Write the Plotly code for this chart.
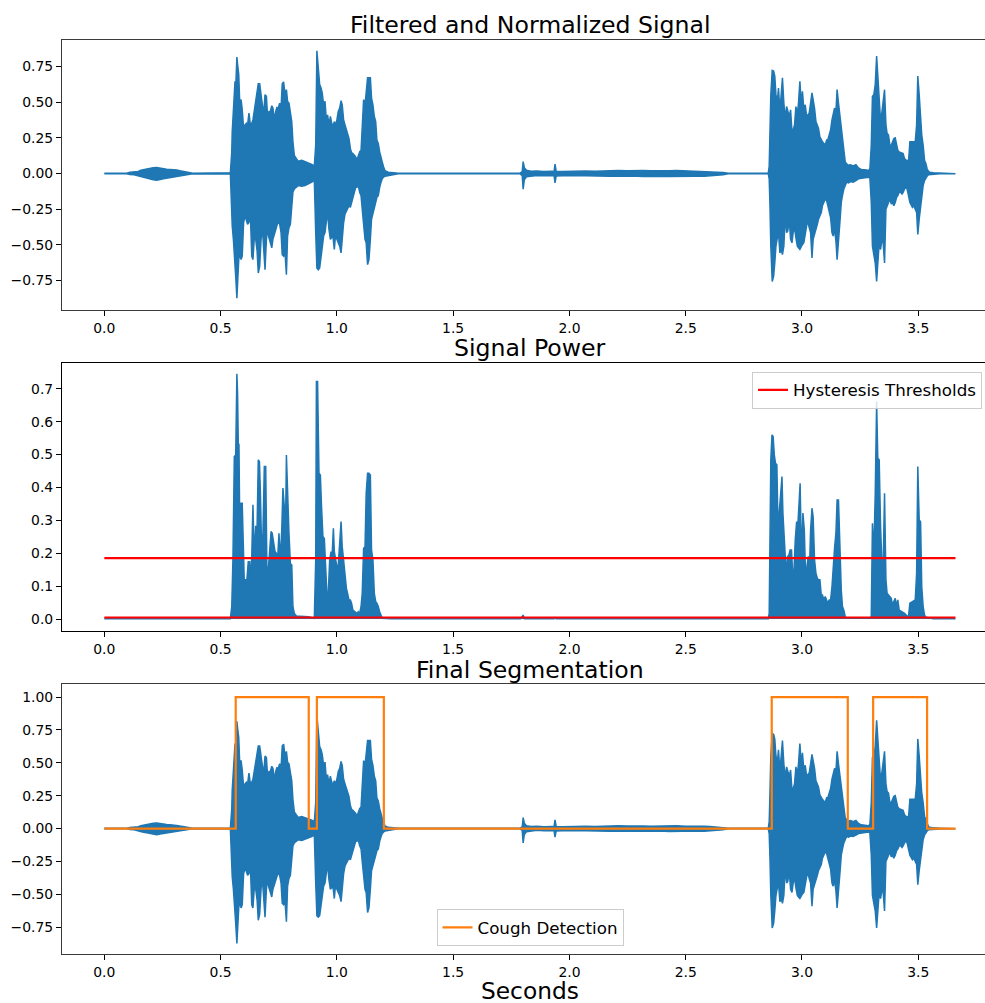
import plotly.graph_objects as go

# ---------------- data ----------------
# Signal amplitude envelope: time (s), upper peak, lower peak
quiet1_t  = [0.000, 0.096, 0.110, 0.128, 0.146, 0.157, 0.168, 0.182, 0.196, 0.210, 0.225, 0.240,
             0.254, 0.268, 0.282, 0.296, 0.311, 0.325, 0.339, 0.354, 0.368, 0.380, 0.542]
quiet1_hi = [0.002, 0.002, 0.008, 0.010, 0.014, 0.022, 0.026, 0.034, 0.038, 0.040, 0.042, 0.036,
             0.035, 0.030, 0.028, 0.027, 0.024, 0.019, 0.014, 0.010, 0.005, 0.002, 0.004]
quiet1_lo = [-0.002, -0.002, -0.008, -0.010, -0.014, -0.022, -0.028, -0.033, -0.038, -0.044, -0.047, -0.042,
             -0.038, -0.031, -0.028, -0.026, -0.024, -0.019, -0.014, -0.009, -0.005, -0.002, -0.004]

burstA_t = [0.545, 0.548, 0.550, 0.555, 0.559, 0.562, 0.565, 0.570, 0.573, 0.578,
            0.582, 0.588, 0.593, 0.599, 0.605, 0.611, 0.616, 0.622, 0.628, 0.634,
            0.639, 0.645, 0.651, 0.657, 0.662, 0.668, 0.674, 0.679, 0.685, 0.691,
            0.697, 0.702, 0.708, 0.714, 0.720, 0.725, 0.731, 0.737, 0.742, 0.748,
            0.754, 0.760, 0.765, 0.771, 0.777, 0.783, 0.788, 0.794, 0.800, 0.806,
            0.811, 0.817, 0.826, 0.834, 0.849, 0.863, 0.877, 0.892, 0.903, 0.909,
            0.914, 0.920, 0.926, 0.932, 0.937, 0.943, 0.949, 0.955, 0.960, 0.966,
            0.972, 0.977, 0.983, 0.989, 0.995, 1.000, 1.006, 1.012, 1.018, 1.023,
            1.029, 1.035, 1.041, 1.046, 1.052, 1.058, 1.063, 1.069, 1.075, 1.081,
            1.086, 1.092, 1.098, 1.104, 1.109, 1.115, 1.121, 1.126, 1.132, 1.138,
            1.144, 1.149, 1.155, 1.161, 1.167, 1.172, 1.178, 1.184, 1.190, 1.195,
            1.201, 1.207, 1.221, 1.235, 1.264]
burstA_hi = [0.080, 0.151, 0.293, 0.446, 0.528, 0.646, 0.599, 0.816, 0.764, 0.694,
             0.505, 0.517, 0.446, 0.316, 0.340, 0.352, 0.340, 0.422, 0.340, 0.352,
             0.375, 0.434, 0.493, 0.552, 0.628, 0.628, 0.552, 0.458, 0.410, 0.552,
             0.540, 0.399, 0.434, 0.434, 0.474, 0.458, 0.375, 0.434, 0.462, 0.458,
             0.493, 0.458, 0.628, 0.642, 0.552, 0.587, 0.505, 0.493, 0.410, 0.363,
             0.222, 0.127, 0.104, 0.085, 0.092, 0.080, 0.073, 0.064, 0.052, 0.198,
             0.859, 0.741, 0.623, 0.599, 0.564, 0.481, 0.505, 0.363, 0.410, 0.340,
             0.399, 0.359, 0.328, 0.363, 0.340, 0.375, 0.434, 0.458, 0.510, 0.481,
             0.375, 0.340, 0.304, 0.281, 0.245, 0.175, 0.146, 0.139, 0.127, 0.116,
             0.092, 0.127, 0.151, 0.163, 0.316, 0.517, 0.481, 0.599, 0.670, 0.670,
             0.670, 0.528, 0.481, 0.399, 0.363, 0.234, 0.210, 0.151, 0.104, 0.080,
             0.045, 0.019, 0.009, 0.005, 0.002]
burstA_lo = [-0.179, -0.274, -0.368, -0.462, -0.557, -0.628, -0.722, -0.875, -0.745, -0.604,
             -0.557, -0.604, -0.580, -0.344, -0.297, -0.333, -0.356, -0.344, -0.285, -0.580,
             -0.604, -0.451, -0.462, -0.545, -0.698, -0.651, -0.462, -0.368, -0.533, -0.675,
             -0.462, -0.392, -0.451, -0.486, -0.521, -0.462, -0.439, -0.392, -0.368, -0.333,
             -0.356, -0.415, -0.569, -0.580, -0.557, -0.710, -0.439, -0.380, -0.356, -0.250,
             -0.132, -0.109, -0.097, -0.085, -0.090, -0.085, -0.073, -0.061, -0.050, -0.415,
             -0.663, -0.675, -0.663, -0.580, -0.510, -0.439, -0.415, -0.333, -0.274, -0.392,
             -0.462, -0.451, -0.439, -0.533, -0.415, -0.462, -0.486, -0.510, -0.557, -0.486,
             -0.344, -0.285, -0.274, -0.250, -0.226, -0.238, -0.203, -0.167, -0.132, -0.097,
             -0.097, -0.085, -0.132, -0.156, -0.250, -0.321, -0.462, -0.486, -0.639, -0.604,
             -0.462, -0.321, -0.297, -0.250, -0.203, -0.167, -0.156, -0.097, -0.061, -0.038,
             -0.026, -0.019, -0.014, -0.009, -0.002]

quiet2_t = [1.787, 1.797, 1.801, 1.806, 1.815, 1.835, 1.860, 1.890, 1.925, 1.934,
            1.938, 1.943, 1.970, 2.000, 2.031, 2.070, 2.110, 2.140, 2.174, 2.210,
            2.250, 2.290, 2.317, 2.350, 2.390, 2.430, 2.461, 2.500, 2.540, 2.580,
            2.604, 2.640, 2.661, 2.683, 2.855]
quiet2_hi = [0.002, 0.012, 0.083, 0.040, 0.022, 0.015, 0.017, 0.013, 0.015, 0.014,
             0.066, 0.016, 0.014, 0.016, 0.015, 0.017, 0.016, 0.019, 0.018, 0.021,
             0.019, 0.022, 0.020, 0.018, 0.021, 0.019, 0.021, 0.018, 0.020, 0.017,
             0.015, 0.011, 0.007, 0.002, 0.002]
quiet2_lo = [-0.002, -0.015, -0.110, -0.045, -0.024, -0.017, -0.014, -0.016, -0.015, -0.016,
             -0.066, -0.018, -0.016, -0.015, -0.017, -0.016, -0.018, -0.017, -0.020, -0.019,
             -0.022, -0.020, -0.021, -0.022, -0.019, -0.022, -0.020, -0.021, -0.019, -0.020,
             -0.016, -0.012, -0.009, -0.002, -0.002]

burstB_t = [2.859, 2.862, 2.866, 2.872, 2.878, 2.883, 2.888, 2.894, 2.899, 2.905,
            2.911, 2.916, 2.922, 2.928, 2.934, 2.939, 2.945, 2.951, 2.957, 2.962,
            2.968, 2.974, 2.980, 2.985, 2.991, 2.997, 3.002, 3.008, 3.014, 3.020,
            3.025, 3.031, 3.037, 3.043, 3.048, 3.054, 3.060, 3.066, 3.071, 3.077,
            3.083, 3.088, 3.094, 3.100, 3.106, 3.111, 3.117, 3.123, 3.129, 3.134,
            3.140, 3.146, 3.151, 3.157, 3.163, 3.169, 3.174, 3.180, 3.186, 3.192,
            3.200, 3.209, 3.220, 3.232, 3.243, 3.255, 3.266, 3.278, 3.286, 3.292,
            3.298, 3.303, 3.309, 3.315, 3.321, 3.326, 3.332, 3.338, 3.344, 3.349,
            3.355, 3.361, 3.366, 3.372, 3.378, 3.384, 3.389, 3.395, 3.401, 3.407,
            3.412, 3.418, 3.424, 3.430, 3.435, 3.441, 3.447, 3.452, 3.458, 3.464,
            3.470, 3.475, 3.481, 3.487, 3.493, 3.498, 3.504, 3.510, 3.515, 3.521,
            3.527, 3.533, 3.538, 3.544, 3.550, 3.564, 3.593, 3.660]
burstB_hi = [0.050, 0.245, 0.552, 0.722, 0.717, 0.682, 0.552, 0.505, 0.599, 0.434,
             0.540, 0.670, 0.493, 0.387, 0.469, 0.434, 0.399, 0.446, 0.293, 0.304,
             0.340, 0.469, 0.410, 0.493, 0.646, 0.481, 0.576, 0.446, 0.481, 0.399,
             0.410, 0.422, 0.493, 0.564, 0.517, 0.458, 0.363, 0.328, 0.316, 0.257,
             0.234, 0.222, 0.210, 0.198, 0.234, 0.234, 0.269, 0.304, 0.375, 0.422,
             0.458, 0.434, 0.587, 0.493, 0.410, 0.316, 0.269, 0.175, 0.080, 0.068,
             0.057, 0.061, 0.052, 0.061, 0.038, 0.028, 0.028, 0.024, 0.019, 0.033,
             0.198, 0.540, 0.552, 0.623, 0.823, 0.694, 0.458, 0.363, 0.434, 0.493,
             0.587, 0.340, 0.281, 0.269, 0.198, 0.198, 0.222, 0.245, 0.250, 0.198,
             0.163, 0.151, 0.146, 0.146, 0.139, 0.104, 0.092, 0.092, 0.080, 0.222,
             0.222, 0.222, 0.217, 0.222, 0.340, 0.682, 0.552, 0.387, 0.269, 0.198,
             0.092, 0.068, 0.033, 0.014, 0.009, 0.005, 0.003, 0.002]
burstB_lo = [-0.038, -0.203, -0.510, -0.757, -0.722, -0.628, -0.510, -0.451, -0.415, -0.557,
             -0.533, -0.569, -0.510, -0.297, -0.415, -0.403, -0.321, -0.462, -0.486, -0.415,
             -0.380, -0.451, -0.510, -0.521, -0.533, -0.510, -0.498, -0.486, -0.415, -0.368,
             -0.333, -0.380, -0.415, -0.592, -0.462, -0.415, -0.392, -0.356, -0.321, -0.297,
             -0.274, -0.226, -0.203, -0.179, -0.191, -0.226, -0.274, -0.309, -0.415, -0.439,
             -0.392, -0.474, -0.604, -0.486, -0.344, -0.203, -0.156, -0.109, -0.085, -0.061,
             -0.066, -0.057, -0.061, -0.050, -0.038, -0.038, -0.033, -0.028, -0.026, -0.033,
             -0.203, -0.510, -0.557, -0.628, -0.757, -0.628, -0.486, -0.533, -0.462, -0.486,
             -0.628, -0.250, -0.226, -0.203, -0.179, -0.215, -0.203, -0.226, -0.203, -0.167,
             -0.156, -0.132, -0.132, -0.144, -0.132, -0.109, -0.097, -0.109, -0.156, -0.203,
             -0.226, -0.238, -0.226, -0.250, -0.274, -0.427, -0.321, -0.226, -0.156, -0.085,
             -0.050, -0.033, -0.019, -0.009, -0.005, -0.005, -0.003, -0.002]

# Signal power envelope: time (s), power
powA_t = [0.000, 0.100, 0.225, 0.370, 0.542, 0.548, 0.553, 0.559, 0.565, 0.570,
          0.573, 0.576, 0.579, 0.582, 0.588, 0.593, 0.598, 0.602, 0.608, 0.613,
          0.619, 0.625, 0.629, 0.634, 0.639, 0.645, 0.651, 0.657, 0.662, 0.667,
          0.671, 0.677, 0.682, 0.688, 0.694, 0.699, 0.705, 0.711, 0.717, 0.722,
          0.728, 0.734, 0.740, 0.745, 0.751, 0.757, 0.763, 0.768, 0.774, 0.780,
          0.783, 0.788, 0.794, 0.800, 0.806, 0.811, 0.817, 0.826, 0.863, 0.877,
          0.903, 0.909, 0.912, 0.917, 0.923, 0.929, 0.934, 0.940, 0.946, 0.952,
          0.957, 0.963, 0.969, 0.975, 0.980, 0.985, 0.989, 0.995, 1.000, 1.006,
          1.012, 1.018, 1.023, 1.029, 1.035, 1.041, 1.046, 1.052, 1.058, 1.063,
          1.069, 1.078, 1.086, 1.092, 1.098, 1.104, 1.109, 1.115, 1.121, 1.126,
          1.132, 1.138, 1.144, 1.149, 1.155, 1.161, 1.167, 1.172, 1.178, 1.184,
          1.190, 1.195, 1.235]
powA_v = [0.0005, 0.0005, 0.0015, 0.0005, 0.001, 0.038, 0.180, 0.494, 0.499, 0.746,
          0.687, 0.535, 0.530, 0.311, 0.352, 0.352, 0.200, 0.109, 0.119, 0.119,
          0.174, 0.174, 0.114, 0.190, 0.347, 0.190, 0.281, 0.281, 0.484, 0.479,
          0.388, 0.190, 0.261, 0.464, 0.464, 0.159, 0.149, 0.205, 0.266, 0.261,
          0.225, 0.205, 0.200, 0.180, 0.261, 0.180, 0.271, 0.398, 0.342, 0.322,
          0.499, 0.372, 0.261, 0.169, 0.164, 0.038, 0.017, 0.009, 0.009, 0.007,
          0.002, 0.180, 0.722, 0.722, 0.443, 0.438, 0.342, 0.251, 0.245, 0.139,
          0.078, 0.078, 0.180, 0.205, 0.200, 0.276, 0.205, 0.180, 0.159, 0.164,
          0.240, 0.296, 0.220, 0.169, 0.124, 0.093, 0.078, 0.058, 0.058, 0.048,
          0.027, 0.022, 0.017, 0.022, 0.017, 0.038, 0.078, 0.215, 0.220, 0.382,
          0.443, 0.443, 0.438, 0.210, 0.180, 0.078, 0.053, 0.048, 0.038, 0.022,
          0.009, 0.002, 0.001]
powQ_t = [1.790, 1.801, 1.806, 1.934, 1.938, 1.943, 2.680, 2.855]
powQ_v = [0.0005, 0.012, 0.001, 0.0006, 0.004, 0.0006, 0.0005, 0.0005]
powB_t = [2.859, 2.862, 2.866, 2.871, 2.876, 2.881, 2.886, 2.892, 2.898, 2.902,
          2.908, 2.914, 2.918, 2.922, 2.926, 2.932, 2.938, 2.944, 2.949, 2.955,
          2.961, 2.965, 2.971, 2.977, 2.982, 2.988, 2.992, 2.998, 3.004, 3.010,
          3.015, 3.021, 3.027, 3.033, 3.037, 3.043, 3.048, 3.054, 3.060, 3.066,
          3.071, 3.077, 3.083, 3.088, 3.094, 3.100, 3.106, 3.111, 3.117, 3.123,
          3.129, 3.134, 3.140, 3.146, 3.151, 3.157, 3.163, 3.169, 3.174, 3.180,
          3.186, 3.192, 3.292, 3.298, 3.303, 3.309, 3.315, 3.321, 3.326, 3.332,
          3.338, 3.344, 3.349, 3.355, 3.361, 3.366, 3.372, 3.378, 3.384, 3.389,
          3.395, 3.401, 3.407, 3.412, 3.418, 3.430, 3.441, 3.452, 3.458, 3.464,
          3.475, 3.487, 3.493, 3.498, 3.504, 3.510, 3.515, 3.521, 3.527, 3.533,
          3.564, 3.660]
powB_v = [0.017, 0.210, 0.484, 0.560, 0.555, 0.499, 0.474, 0.469, 0.240, 0.322,
          0.382, 0.433, 0.322, 0.271, 0.190, 0.139, 0.190, 0.195, 0.210, 0.210,
          0.119, 0.139, 0.240, 0.296, 0.281, 0.352, 0.413, 0.180, 0.322, 0.271,
          0.139, 0.159, 0.190, 0.169, 0.271, 0.337, 0.311, 0.180, 0.139, 0.124,
          0.119, 0.119, 0.073, 0.073, 0.058, 0.068, 0.058, 0.048, 0.058, 0.058,
          0.098, 0.159, 0.215, 0.261, 0.362, 0.362, 0.180, 0.088, 0.038, 0.027,
          0.007, 0.002, 0.002, 0.007, 0.291, 0.200, 0.382, 0.661, 0.489, 0.484,
          0.281, 0.159, 0.159, 0.382, 0.119, 0.078, 0.073, 0.068, 0.063, 0.043,
          0.053, 0.063, 0.038, 0.058, 0.027, 0.022, 0.017, 0.009, 0.007, 0.048,
          0.053, 0.058, 0.139, 0.464, 0.301, 0.296, 0.098, 0.038, 0.012, 0.005,
          0.001, 0.0005]

thresholds = [0.185, 0.0045]          # hysteresis thresholds (upper, lower)
seg_t = [0.000, 0.565, 0.879, 0.914, 1.202, 2.870, 3.197, 3.306, 3.538, 3.660]
seg_v = [0, 1, 0, 1, 0, 1, 0, 1, 0, 0]

x_ticks = [0.0, 0.5, 1.0, 1.5, 2.0, 2.5, 3.0, 3.5]
y1_ticks = [-0.75, -0.50, -0.25, 0.00, 0.25, 0.50, 0.75]
y2_ticks = [0.0, 0.1, 0.2, 0.3, 0.4, 0.5, 0.6, 0.7]
y3_ticks = [-0.75, -0.50, -0.25, 0.00, 0.25, 0.50, 0.75, 1.00]

titles = ["Filtered and Normalized Signal", "Signal Power", "Final Segmentation"]
x_label = "Seconds"

# ---------------- assemble ----------------
sig_t = quiet1_t + burstA_t + quiet2_t + burstB_t
sig_hi = quiet1_hi + burstA_hi + quiet2_hi + burstB_hi
sig_lo = quiet1_lo + burstA_lo + quiet2_lo + burstB_lo
assert len(sig_t) == len(sig_hi) == len(sig_lo), (len(sig_t), len(sig_hi), len(sig_lo))
pow_t = powA_t + powQ_t + powB_t
pow_v = powA_v + powQ_v + powB_v
assert len(pow_t) == len(pow_v), (len(pow_t), len(pow_v))

BLUE = '#1f77b4'
ORANGE = '#ff7f0e'
RED = '#ff0000'
FONT = 'DejaVu Sans'
W, H = 985, 1003


def py(p):
    return 1 - p / H


xdom = [62 / W, 1.0]
doms = [[py(310), py(40)], [py(631), py(362.5)], [py(954), py(684)]]
yranges = [[-0.957, 0.935], [-0.0365, 0.78], [-0.955, 1.10]]
yticks = [y1_ticks, y2_ticks, y3_ticks]
yfmt = ['{:.2f}', '{:.1f}', '{:.2f}']
spine = ['#3a3a3a', 'black', '#3a3a3a']

poly_x = sig_t + sig_t[::-1]
poly_y = sig_hi + sig_lo[::-1]
t_end = sig_t[-1]

fig = go.Figure()
fig.add_trace(go.Scatter(x=poly_x, y=poly_y, mode='lines', fill='toself', fillcolor=BLUE,
                         line=dict(color=BLUE, width=1.5), showlegend=False,
                         xaxis='x', yaxis='y', hoverinfo='skip'))
fig.add_trace(go.Scatter(x=pow_t, y=pow_v, mode='lines', fill='tozeroy', fillcolor=BLUE,
                         line=dict(color=BLUE, width=1.5), showlegend=False,
                         xaxis='x2', yaxis='y2', hoverinfo='skip'))
fig.add_trace(go.Scatter(x=[0, t_end, None, 0, t_end],
                         y=[thresholds[0], thresholds[0], None, thresholds[1], thresholds[1]],
                         mode='lines', line=dict(color=RED, width=2.2), connectgaps=False,
                         name='Hysteresis Thresholds', legend='legend',
                         xaxis='x2', yaxis='y2'))
fig.add_trace(go.Scatter(x=poly_x, y=poly_y, mode='lines', fill='toself', fillcolor=BLUE,
                         line=dict(color=BLUE, width=1.5), showlegend=False,
                         xaxis='x3', yaxis='y3', hoverinfo='skip'))
fig.add_trace(go.Scatter(x=seg_t, y=seg_v, mode='lines', line=dict(color=ORANGE, width=2.2, shape='hv'),
                         name='Cough Detection', legend='legend2', xaxis='x3', yaxis='y3'))

tickfont = dict(family=FONT, size=13.9, color='black')
layout = dict(width=W, height=H, margin=dict(l=0, r=0, t=0, b=0),
              paper_bgcolor='white', plot_bgcolor='white', showlegend=True,
              font=dict(family=FONT, color='black'))
for i in range(3):
    sx = '' if i == 0 else str(i + 1)
    layout['xaxis' + sx] = dict(domain=xdom, range=[-0.182, 3.787], anchor='y' + sx,
                                tickmode='array', tickvals=x_ticks,
                                ticktext=['{:.1f}'.format(v) for v in x_ticks],
                                ticks='outside', ticklen=5, tickwidth=1.1, tickcolor='black',
                                showline=True, linecolor=spine[i], linewidth=1.1, mirror=True,
                                showgrid=False, zeroline=False, tickfont=tickfont, automargin=False)
    layout['yaxis' + sx] = dict(domain=doms[i], range=yranges[i], anchor='x' + sx,
                                tickmode='array', tickvals=yticks[i],
                                ticktext=[yfmt[i].format(v).replace('-', '\u2212') for v in yticks[i]],
                                ticks='outside', ticklen=5, tickwidth=1.1, tickcolor='black',
                                showline=True, linecolor=spine[i], linewidth=1.1, mirror=False,
                                showgrid=False, zeroline=False, tickfont=tickfont, automargin=False)

legstyle = dict(bgcolor='rgba(255,255,255,0.8)', bordercolor='#cccccc', borderwidth=1,
                font=dict(family=FONT, size=16.7, color='black'))
layout['legend'] = dict(x=752 / W, y=py(371.5), xanchor='left', yanchor='top', **legstyle)
layout['legend2'] = dict(x=530 / W, y=py(946), xanchor='center', yanchor='bottom', **legstyle)

title_y = [25, 348.5, 669.5]
ann = []
for txt, yy in zip(titles, title_y):
    ann.append(dict(text=txt, x=530 / W, y=py(yy), xref='paper', yref='paper',
                    xanchor='center', yanchor='middle', showarrow=False,
                    font=dict(family=FONT, size=23.6, color='black')))
ann.append(dict(text=x_label, x=530 / W, y=py(990), xref='paper', yref='paper',
                xanchor='center', yanchor='middle', showarrow=False,
                font=dict(family=FONT, size=23.3, color='black')))
layout['annotations'] = ann

fig.update_layout(**layout)
fig.write_html("out.html", config={'displayModeBar': False},
               post_script="document.body.style.margin='0px';document.body.style.overflow='hidden';")
